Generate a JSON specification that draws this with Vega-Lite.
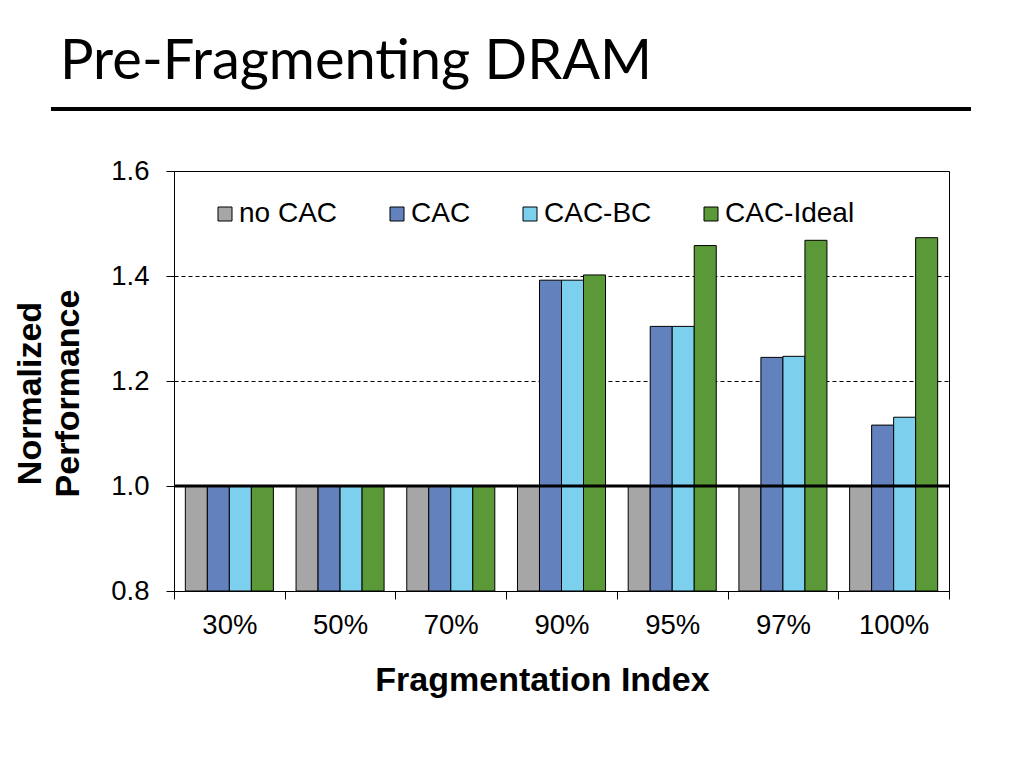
{
  "$schema": "https://vega.github.io/schema/vega-lite/v6.json",
  "background": "white",
  "padding": {"left": 13, "top": 34, "right": 5, "bottom": 5},
  "bounds": "flush",
  "spacing": 60,
  "config": {
    "font": "Liberation Sans",
    "axis": {"domainColor": "black", "tickColor": "black", "labelColor": "black", "titleColor": "black"}
  },
  "vconcat": [
    {
      "width": 920,
      "height": 4,
      "title": {"text": "Pre-Fragmenting DRAM", "anchor": "start", "font": "Lato", "fontSize": 56, "fontWeight": "normal", "color": "black", "offset": 12, "dx": 9},
      "view": {"fill": "black", "stroke": null},
      "data": {"values": [{"k": 1}]},
      "mark": {"type": "text"},
      "encoding": {"text": {"value": ""}}
    },
    {
      "bounds": "flush",
      "spacing": 0,
      "hconcat": [
        {
          "width": 123,
          "height": 420,
          "view": {"stroke": null},
          "data": {"values": [{"k": 1}]},
          "mark": {"type": "text"},
          "encoding": {"text": {"value": ""}}
        },
        {
          "width": 775,
          "height": 420,
          "view": {"stroke": "black", "strokeWidth": 1},
          "layer": [
            {
              "data": {"values": [
                {"frag": "30%", "series": "no CAC", "value": 1.0},
                {"frag": "30%", "series": "CAC", "value": 1.0},
                {"frag": "30%", "series": "CAC-BC", "value": 1.0},
                {"frag": "30%", "series": "CAC-Ideal", "value": 1.0},
                {"frag": "50%", "series": "no CAC", "value": 1.0},
                {"frag": "50%", "series": "CAC", "value": 1.0},
                {"frag": "50%", "series": "CAC-BC", "value": 1.0},
                {"frag": "50%", "series": "CAC-Ideal", "value": 1.0},
                {"frag": "70%", "series": "no CAC", "value": 1.0},
                {"frag": "70%", "series": "CAC", "value": 1.0},
                {"frag": "70%", "series": "CAC-BC", "value": 1.0},
                {"frag": "70%", "series": "CAC-Ideal", "value": 1.0},
                {"frag": "90%", "series": "no CAC", "value": 1.0},
                {"frag": "90%", "series": "CAC", "value": 1.392},
                {"frag": "90%", "series": "CAC-BC", "value": 1.392},
                {"frag": "90%", "series": "CAC-Ideal", "value": 1.402},
                {"frag": "95%", "series": "no CAC", "value": 1.0},
                {"frag": "95%", "series": "CAC", "value": 1.304},
                {"frag": "95%", "series": "CAC-BC", "value": 1.304},
                {"frag": "95%", "series": "CAC-Ideal", "value": 1.458},
                {"frag": "97%", "series": "no CAC", "value": 1.0},
                {"frag": "97%", "series": "CAC", "value": 1.245},
                {"frag": "97%", "series": "CAC-BC", "value": 1.247},
                {"frag": "97%", "series": "CAC-Ideal", "value": 1.468},
                {"frag": "100%", "series": "no CAC", "value": 1.0},
                {"frag": "100%", "series": "CAC", "value": 1.116},
                {"frag": "100%", "series": "CAC-BC", "value": 1.131},
                {"frag": "100%", "series": "CAC-Ideal", "value": 1.473}
              ]},
              "mark": {"type": "bar", "stroke": "black", "strokeWidth": 1},
              "encoding": {
                "x": {
                  "field": "frag", "type": "nominal",
                  "sort": ["30%", "50%", "70%", "90%", "95%", "97%", "100%"],
                  "scale": {"paddingInner": 0, "paddingOuter": 0},
                  "axis": {
                    "title": "Fragmentation Index", "titleFontSize": 34, "titleFontWeight": "bold", "titlePadding": 25, "titleX": 368,
                    "labelFontSize": 27.5, "labelAngle": 0, "labelPadding": 12,
                    "tickBand": "extent", "tickSize": 8, "domainWidth": 1
                  }
                },
                "xOffset": {
                  "field": "series", "type": "nominal",
                  "sort": ["no CAC", "CAC", "CAC-BC", "CAC-Ideal"],
                  "scale": {"paddingInner": 0, "paddingOuter": 0.515}
                },
                "y": {
                  "field": "value", "type": "quantitative",
                  "scale": {"domain": [0.8, 1.6], "zero": false, "nice": false},
                  "axis": {
                    "title": ["Normalized", "Performance"], "titleFontSize": 34, "titleFontWeight": "bold", "titleLineHeight": 38, "titlePadding": 25, "titleY": 222,
                    "values": [0.8, 1.0, 1.2, 1.4, 1.6], "format": ".1f",
                    "labelFontSize": 27.5, "labelPadding": 17, "tickSize": 8,
                    "grid": true, "gridColor": "black", "gridDash": [4, 3], "gridWidth": 1, "gridOpacity": 1
                  }
                },
                "y2": {"datum": 0.8},
                "color": {
                  "field": "series", "type": "nominal",
                  "sort": ["no CAC", "CAC", "CAC-BC", "CAC-Ideal"],
                  "scale": {"domain": ["no CAC", "CAC", "CAC-BC", "CAC-Ideal"], "range": ["#a6a6a6", "#6382bd", "#7cd0ee", "#5a9838"]},
                  "legend": {
                    "orient": "none", "legendX": 160, "legendY": 93, "direction": "horizontal", "columns": 4,
                    "title": null, "symbolType": "square", "symbolSize": 196, "symbolStrokeColor": "black", "symbolStrokeWidth": 1,
                    "symbolOpacity": 1, "labelFontSize": 28, "labelColor": "black", "labelOffset": 0, "columnPadding": 45, "padding": 0
                  }
                }
              }
            },
            {
              "data": {"values": [{"v": 1.0}]},
              "mark": {"type": "rule", "color": "black", "strokeWidth": 3},
              "encoding": {"y": {"field": "v", "type": "quantitative"}}
            }
          ]
        }
      ]
    }
  ]
}
